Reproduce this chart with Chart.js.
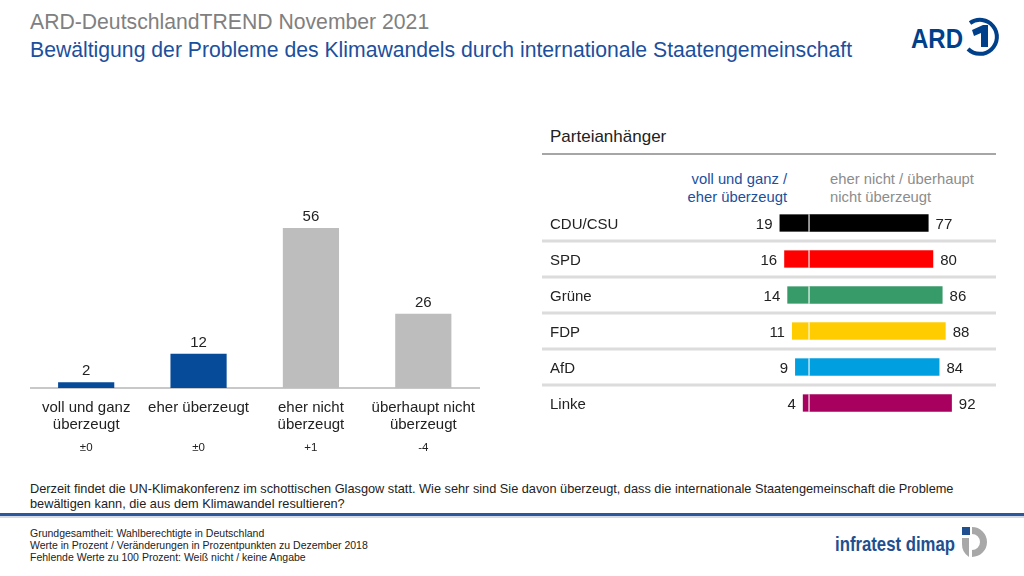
<!DOCTYPE html>
<html>
<head>
<meta charset="utf-8">
<script src="https://cdn.jsdelivr.net/npm/chart.js@4"></script>
<style>
  body { margin:0; width:1024px; height:576px; background:#fff; position:relative; overflow:hidden;
         font-family:"Liberation Sans", Arial, sans-serif; }
  .t { position:absolute; white-space:nowrap; line-height:1; }
  canvas { position:absolute; }
</style>
</head>
<body>
<div class="t" style="left:30px;top:11px;font-size:21.2px;color:#808080;">ARD-DeutschlandTREND November 2021</div>
<div class="t" style="left:30px;top:39px;font-size:21.2px;color:#1c4f9c;">Bewältigung der Probleme des Klimawandels durch internationale Staatengemeinschaft</div>

<svg style="position:absolute;left:908px;top:14px" width="96" height="46" viewBox="0 0 96 46">
  <text x="3" y="34" font-family="Liberation Sans, Arial" font-weight="bold" font-size="28" fill="#003f8a" textLength="52" lengthAdjust="spacingAndGlyphs">ARD</text>
  <path d="M62 9 A17 17 0 1 1 60 35" fill="none" stroke="#003f8a" stroke-width="4"/>
  <path d="M64 16 L75 11 L80 11 L80 33 L73 33 L73 19 L66 22 Z" fill="#003f8a"/>
</svg>

<div class="t" style="left:550px;top:128px;font-size:17px;color:#222;">Parteianhänger</div>
<div style="position:absolute;left:542px;top:153px;width:454px;height:2px;background:#a6a6a6;"></div>
<div class="t" style="left:620px;width:167px;top:170px;font-size:14.8px;color:#1c4f9c;text-align:right;line-height:18px;">voll und ganz /<br>eher überzeugt</div>
<div class="t" style="left:830px;top:170px;font-size:14.8px;color:#8c8c8c;line-height:18px;">eher nicht / überhaupt<br>nicht überzeugt</div>

<canvas id="leftChart" width="456" height="290" style="left:30px;top:180px"></canvas>
<canvas id="rightChart" width="458" height="216" style="left:542px;top:205px"></canvas>

<div class="t" style="left:30px;top:481px;font-size:12.75px;color:#222;line-height:15px;font-family:'Liberation Sans Narrow','Arial Narrow',sans-serif;">Derzeit findet die UN-Klimakonferenz im schottischen Glasgow statt. Wie sehr sind Sie davon überzeugt, dass die internationale Staatengemeinschaft die Probleme<br>bewältigen kann, die aus dem Klimawandel resultieren?</div>
<div style="position:absolute;left:0;top:513px;width:1024px;height:3px;background:#2a579e;"></div>
<div style="position:absolute;left:0;top:516px;width:1024px;height:2px;background:#d6dbe3;"></div>
<div class="t" style="left:30px;top:527px;font-size:10.5px;color:#222;line-height:12px;font-family:'Liberation Sans Narrow','Arial Narrow',sans-serif;">Grundgesamtheit: Wahlberechtigte in Deutschland<br>Werte in Prozent / Veränderungen in Prozentpunkten zu Dezember 2018<br>Fehlende Werte zu 100 Prozent: Weiß nicht / keine Angabe</div>

<svg style="position:absolute;left:832px;top:524px" width="170" height="38" viewBox="0 0 170 38">
  <text x="3" y="27" font-family="Liberation Sans Narrow, Liberation Sans, Arial" font-weight="bold" font-size="21" fill="#1f4f8f" textLength="120" lengthAdjust="spacingAndGlyphs">infratest dimap</text>
  <rect x="130" y="3" width="8" height="8" fill="#1f4f8f"/>
  <path d="M140 3 A15 15 0 0 1 140 33 L140 26 A8 8 0 0 0 140 10 Z" fill="#a8a8a8"/>
  <path d="M130 14 L137 14 L137 33 A15 15 0 0 1 130 20 Z" fill="#a8a8a8"/>
</svg>

<script>
// Gesamtergebnis
const categories = [['voll und ganz', 'überzeugt'], 'eher überzeugt', ['eher nicht', 'überzeugt'], ['überhaupt nicht', 'überzeugt']];
const values = [2, 12, 56, 26];
const changes = ['±0', '±0', '+1', '-4'];
const barColors = ['#064a9a', '#064a9a', '#bdbdbd', '#bdbdbd'];

// Parteianhänger
const parties = ['CDU/CSU', 'SPD', 'Grüne', 'FDP', 'AfD', 'Linke'];
const convinced = [19, 16, 14, 11, 9, 4];
const notConvinced = [77, 80, 86, 88, 84, 92];
const partyColors = ['#000000', '#ff0000', '#379a69', '#ffcc00', '#009fe0', '#a8005f'];

const FONT = '"Liberation Sans", Arial, sans-serif';

const leftLabels = {
    id: 'leftLabels',
    afterDatasetsDraw(chart) {
        const ctx = chart.ctx;
        const meta = chart.getDatasetMeta(0);
        const xs = chart.scales.x;
        ctx.save();
        ctx.fillStyle = '#222';
        ctx.textAlign = 'center';
        ctx.textBaseline = 'middle';
        ctx.font = '15px ' + FONT;
        meta.data.forEach((bar, i) => {
            ctx.fillText(values[i], bar.x, bar.y - 11);
        });
        ctx.font = '11.5px ' + FONT;
        changes.forEach((c, i) => {
            ctx.fillText(c, xs.getPixelForValue(i), chart.chartArea.bottom + 60);
        });
        ctx.restore();
    }
};

new Chart(document.getElementById('leftChart'), {
    type: 'bar',
    data: {
        labels: categories,
        datasets: [{
            data: values,
            backgroundColor: barColors,
            barPercentage: 0.5,
            categoryPercentage: 1
        }]
    },
    options: {
        responsive: false,
        animation: false,
        layout: { padding: { top: 8, left: 0, right: 0, bottom: 0 } },
        plugins: { legend: { display: false }, tooltip: { enabled: false } },
        scales: {
            x: {
                grid: { display: false, drawTicks: false },
                border: { color: '#c8c8c8', width: 2 },
                ticks: { color: '#222', font: { size: 15, family: FONT, lineHeight: 1.15 }, padding: 11, maxRotation: 0, autoSkip: false },
                afterFit: (scale) => { scale.height = 82; }
            },
            y: { display: false, min: 0, max: 70 }
        }
    },
    plugins: [leftLabels]
});

const rightDecor = {
    id: 'rightDecor',
    beforeDatasetsDraw(chart) {
        const ctx = chart.ctx;
        const ys = chart.scales.y;
        const a = chart.chartArea;
        ctx.save();
        ctx.strokeStyle = '#dcdcdc';
        ctx.lineWidth = 3;
        for (let i = 0; i < parties.length - 1; i++) {
            const y = (ys.getPixelForValue(i) + ys.getPixelForValue(i + 1)) / 2;
            ctx.beginPath();
            ctx.moveTo(a.left, y);
            ctx.lineTo(a.left + 454, y);
            ctx.stroke();
        }
        ctx.restore();
    },
    afterDatasetsDraw(chart) {
        const ctx = chart.ctx;
        const ys = chart.scales.y;
        const xs = chart.scales.x;
        const x0 = xs.getPixelForValue(0);
        ctx.save();
        ctx.font = '15px ' + FONT;
        ctx.textBaseline = 'middle';
        parties.forEach((p, i) => {
            const y = ys.getPixelForValue(i) + 1.5;
            ctx.fillStyle = '#222';
            ctx.textAlign = 'left';
            ctx.fillText(p, chart.chartArea.left + 8, y);
            ctx.textAlign = 'right';
            ctx.fillText(convinced[i], xs.getPixelForValue(-convinced[i]) - 7, y);
            ctx.textAlign = 'left';
            ctx.fillText(notConvinced[i], xs.getPixelForValue(notConvinced[i]) + 7, y);
            const bar = chart.getDatasetMeta(0).data[i];
            ctx.strokeStyle = 'rgba(255,255,255,0.75)';
            ctx.lineWidth = 1.5;
            ctx.beginPath();
            ctx.moveTo(x0, bar.y - bar.height / 2);
            ctx.lineTo(x0, bar.y + bar.height / 2);
            ctx.stroke();
        });
        ctx.restore();
    }
};

new Chart(document.getElementById('rightChart'), {
    type: 'bar',
    data: {
        labels: parties,
        datasets: [
            { data: convinced.map(v => -v), backgroundColor: partyColors, barPercentage: 0.48, categoryPercentage: 1 },
            { data: notConvinced, backgroundColor: partyColors, barPercentage: 0.48, categoryPercentage: 1 }
        ]
    },
    options: {
        indexAxis: 'y',
        responsive: false,
        animation: false,
        layout: { padding: 0 },
        plugins: { legend: { display: false }, tooltip: { enabled: false } },
        scales: {
            x: { display: false, stacked: true, min: -172, max: 123 },
            y: { display: false, stacked: true }
        }
    },
    plugins: [rightDecor]
});
</script>
</body>
</html>
